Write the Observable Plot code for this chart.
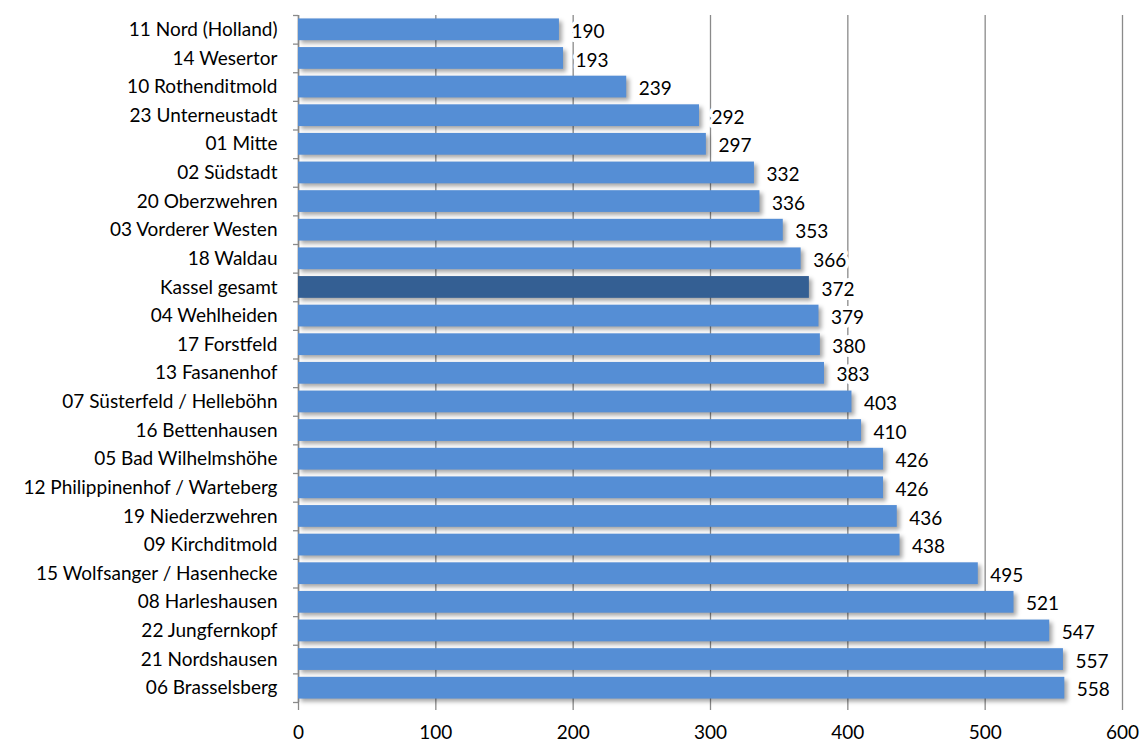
<!DOCTYPE html>
<html>
<head>
<meta charset="utf-8">
<script src="https://cdn.jsdelivr.net/npm/d3@7"></script>
<script src="https://cdn.jsdelivr.net/npm/@observablehq/plot@0.6"></script>
<style>
  html, body { margin: 0; padding: 0; background: #fff; }
  #chart svg g[aria-label="bar"] rect { filter: drop-shadow(3px 3px 2px rgba(0,0,0,0.35)); }
</style>
</head>
<body>
<div id="chart"></div>
<script>
const districts = [
  "11 Nord (Holland)", "14 Wesertor", "10 Rothenditmold", "23 Unterneustadt",
  "01 Mitte", "02 Südstadt", "20 Oberzwehren", "03 Vorderer Westen",
  "18 Waldau", "Kassel gesamt", "04 Wehlheiden", "17 Forstfeld",
  "13 Fasanenhof", "07 Süsterfeld / Helleböhn", "16 Bettenhausen",
  "05 Bad Wilhelmshöhe", "12 Philippinenhof / Warteberg", "19 Niederzwehren",
  "09 Kirchditmold", "15 Wolfsanger / Hasenhecke", "08 Harleshausen",
  "22 Jungfernkopf", "21 Nordshausen", "06 Brasselsberg"
];
const values = [190, 193, 239, 292, 297, 332, 336, 353, 366, 372, 379, 380, 383, 403, 410, 426, 426, 436, 438, 495, 521, 547, 557, 558];
const totalLabel = "Kassel gesamt";
const xTicks = [0, 100, 200, 300, 400, 500, 600];

const data = districts.map((d, i) => ({district: d, value: values[i]}));

const W = 1143, H = 746, mTop = 15, mBottom = 44, mLeft = 298, mRight = 21;
const step = (H - mTop - mBottom) / districts.length;
const font = "Lato, 'Open Sans', sans-serif";

const chart = Plot.plot({
  width: W,
  height: H,
  marginTop: mTop,
  marginBottom: mBottom,
  marginLeft: mLeft,
  marginRight: mRight,
  style: {fontFamily: font, background: "#fff"},
  x: {domain: [0, 600]},
  y: {domain: districts, paddingInner: 0.24, paddingOuter: 0.12, round: false},
  marks: [
    Plot.gridX(xTicks, {stroke: "#8a8a8a", strokeOpacity: 1, strokeWidth: 1.3}),
    Plot.axisX(xTicks, {tickSize: 8, stroke: "#8a8a8a", strokeWidth: 1.3, tickPadding: 15, fontSize: 19, fill: "#000", label: null}),
    Plot.ruleX([0], {stroke: "#8a8a8a", strokeWidth: 1.5}),
    Plot.barX(data, {
      y: "district", x: "value",
      fill: d => d.district === totalLabel ? "#345f93" : "#558ed5"
    }),
    Plot.text(data, {
      y: "district", x: "value", text: d => String(d.value),
      textAnchor: "start", dx: 12, dy: 2, fontSize: 19, fill: "#000",
      stroke: "#fff", strokeWidth: 8
    }),
    Plot.axisY({tickSize: 0, tickPadding: 21, fontSize: 19, fill: "#000", label: null}),
    Plot.axisY({tickSize: 5, stroke: "#8a8a8a", strokeWidth: 1.3, text: null, dy: step / 2, label: null}),
    Plot.axisY([districts[0]], {tickSize: 5, stroke: "#8a8a8a", strokeWidth: 1.3, text: null, dy: -step / 2, label: null})
  ]
});
document.getElementById("chart").appendChild(chart);
</script>
</body>
</html>
